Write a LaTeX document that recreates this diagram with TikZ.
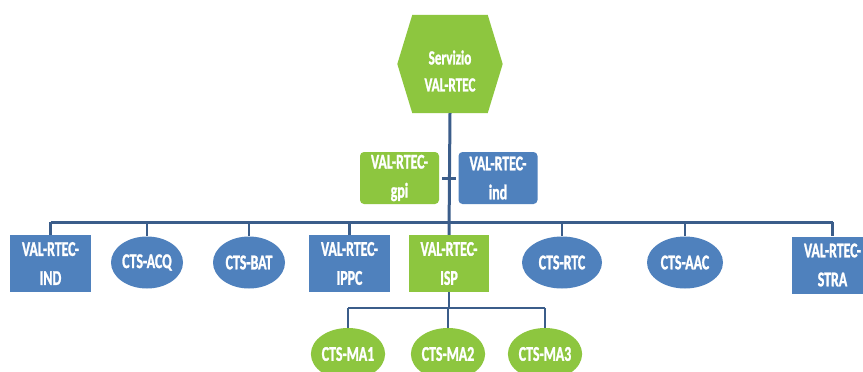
\documentclass[tikz,border=0pt]{standalone}
\usepackage{fontspec}
\setmainfont[FakeStretch=0.66,BoldFont={Carlito Bold},BoldFeatures={FakeBold=1.2}]{Carlito}
\usetikzlibrary{calc,shapes.geometric}
\definecolor{leafgreen}{HTML}{8DC63F}
\definecolor{unitblue}{HTML}{4F81BD}
\definecolor{wireblue}{HTML}{3B5D8A}
\tikzset{
  lbl/.style={text=white,font=\bfseries\fontsize{21}{29}\selectfont,align=center,inner sep=0pt},
  bluebox/.style={lbl,fill=unitblue,minimum width=81pt,minimum height=57pt},
  greenbox/.style={lbl,fill=leafgreen,minimum width=80pt,minimum height=57pt},
  tagbox/.style={lbl,rounded corners=4pt,minimum width=79pt,minimum height=52pt},
  blueoval/.style={lbl,ellipse,fill=unitblue,minimum width=72pt,minimum height=52pt},
  greenoval/.style={lbl,ellipse,fill=leafgreen,minimum width=74pt,minimum height=52pt},
  bus/.style={draw=wireblue,line width=3pt},
  drop/.style={draw=wireblue,line width=2.2pt}
}
\begin{document}
\begin{tikzpicture}[x=1pt,y=-1pt]
\useasboundingbox[fill=white] (0,0) rectangle (863,372);

% service hexagon
\node[inner sep=0pt,minimum width=105pt,minimum height=98pt] (srv) at (450,64) {};
\fill[leafgreen] ($(srv.north west)+(15,0)$) -- ($(srv.north east)+(-15,0)$) -- (srv.east)
  -- ($(srv.south east)+(-15,0)$) -- ($(srv.south west)+(15,0)$) -- (srv.west) -- cycle;
\node[lbl,font=\bfseries\fontsize{20}{27}\selectfont] (srvtxt) at (450,71) {Servizio\\VAL-RTEC};

% side tags
\node[tagbox,fill=leafgreen] (gpi) at (399.5,178) {VAL-RTEC-\\gpi};
\node[tagbox,fill=unitblue] (ind) at (498,178) {VAL-RTEC-\\ind};

% first level
\node[bluebox] (vind) at (50.5,263.5) {VAL-RTEC-\\IND};
\node[blueoval] (acq) at (147,262.5) {CTS-ACQ};
\node[blueoval] (bat) at (249,262.5) {CTS-BAT};
\node[bluebox] (ippc) at (349.5,263.5) {VAL-RTEC-\\IPPC};
\node[greenbox] (isp) at (449,263.5) {VAL-RTEC-\\ISP};
\node[blueoval,minimum width=80pt] (rtc) at (562,262.5) {CTS-RTC};
\node[blueoval,minimum width=76pt] (aac) at (685,262.5) {CTS-AAC};
\node[bluebox] (stra) at (832.5,265) {VAL-RTEC-\\STRA};

% second level
\node[greenoval] (ma1) at (348,354) {CTS-MA1};
\node[greenoval] (ma2) at (448,354) {CTS-MA2};
\node[greenoval] (ma3) at (545,354) {CTS-MA3};

% trunk and buses
\coordinate (busy) at (0,222);
\coordinate (subbusy) at (0,308);
\draw[bus] (srv.south) -- (isp.north);
\draw[bus] (vind.north |- busy) -- (stra.north |- busy);
\draw[bus] ($(gpi.east)+(3,0)$) -- ($(ind.west)+(-2,0)$);
\foreach \n in {vind,acq,bat,ippc,rtc,aac,stra}
  \draw[drop] (\n.north |- busy) -- (\n.north);
\draw[drop] (isp.south) -- (isp.south |- subbusy);
\draw[drop] (ma1.north |- subbusy) -- (ma3.north |- subbusy);
\foreach \n in {ma1,ma2,ma3}
  \draw[drop] (\n.north |- subbusy) -- (\n.north);
\end{tikzpicture}
\end{document}
